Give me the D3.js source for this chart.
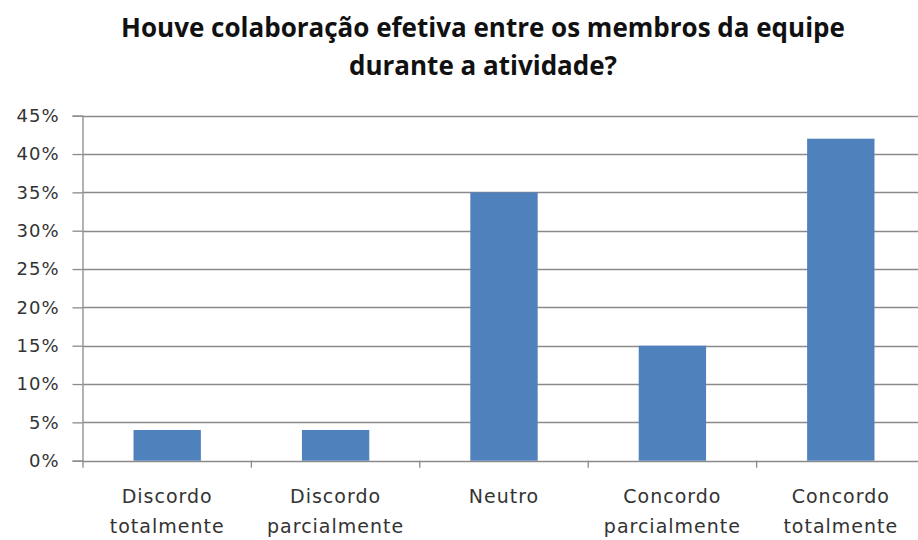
<!DOCTYPE html>
<html>
<head>
<meta charset="utf-8">
<script src="https://cdn.jsdelivr.net/npm/d3@7"></script>
<style>
  body { margin: 0; background: #fff; }
  svg { display: block; }
  .tick text { font-family: "DejaVu Sans", Verdana, sans-serif; fill: #333; }
</style>
</head>
<body>
<div id="chart"></div>
<script>
const categories = [
  ["Discordo", "totalmente"],
  ["Discordo", "parcialmente"],
  ["Neutro"],
  ["Concordo", "parcialmente"],
  ["Concordo", "totalmente"]
];
const values = [0.04, 0.04, 0.35, 0.15, 0.42];
const yTicks = [0, 0.05, 0.10, 0.15, 0.20, 0.25, 0.30, 0.35, 0.40, 0.45];
const titleLines = ["Houve colaboração efetiva entre os membros da equipe", "durante a atividade?"];

const width = 918, height = 540;
const margin = { top: 115.7, right: -7, bottom: 79.3, left: 83 };

const svg = d3.select('#chart').append('svg')
  .attr('width', width)
  .attr('height', height);

// title
svg.append('g').selectAll('text')
  .data(titleLines)
  .enter().append('text')
    .attr('x', 483)
    .attr('y', (d, i) => 37 + i * 38)
    .attr('text-anchor', 'middle')
    .style('font-family', '"Open Sans", sans-serif')
    .style('font-weight', 'bold')
    .style('font-size', '26px')
    .style('fill', '#111')
    .text(d => d);

const x = d3.scaleBand()
  .domain(d3.range(categories.length))
  .range([margin.left, width - margin.right])
  .paddingInner(0.6)
  .paddingOuter(0.3);

const y = d3.scaleLinear()
  .domain([0, 0.45])
  .range([height - margin.bottom, margin.top]);

// gridlines
svg.append('g')
  .selectAll('line')
  .data(yTicks)
  .enter().append('line')
    .attr('x1', margin.left)
    .attr('x2', width)
    .attr('y1', d => Math.round(y(d)) + 0.5)
    .attr('y2', d => Math.round(y(d)) + 0.5)
    .attr('stroke', '#8a8a8a')
    .attr('stroke-width', 1.3);

// bars
svg.append('g')
  .selectAll('rect')
  .data(values)
  .enter().append('rect')
    .attr('x', (d, i) => x(i))
    .attr('width', x.bandwidth())
    .attr('y', d => y(d))
    .attr('height', d => y(0) - y(d))
    .attr('fill', '#4F81BD');

// y axis
const yAxis = svg.append('g')
  .attr('transform', 'translate(' + (margin.left - 0.5) + ',0)')
  .call(d3.axisLeft(y).tickValues(yTicks).tickFormat(d3.format('.0%')).tickSize(10).tickPadding(13));
yAxis.selectAll('line, path').attr('stroke', '#8a8a8a').attr('stroke-width', 1.3);
yAxis.selectAll('text').style('font-size', '18px').attr('letter-spacing', '1px');

// x axis
const step = x.step();
const bounds = d3.range(categories.length + 1).map(i => margin.left + i * step);
const xAxis = svg.append('g');
xAxis.selectAll('line')
  .data(bounds)
  .enter().append('line')
    .attr('x1', d => d)
    .attr('x2', d => d)
    .attr('y1', y(0))
    .attr('y2', y(0) + 7)
    .attr('stroke', '#8a8a8a')
    .attr('stroke-width', 1.3);

const labels = xAxis.selectAll('text')
  .data(categories)
  .enter().append('text')
    .attr('x', (d, i) => x(i) + x.bandwidth() / 2)
    .attr('y', 503)
    .attr('text-anchor', 'middle')
    .style('font-family', '"DejaVu Sans", Verdana, sans-serif')
    .style('font-size', '19px')
    .attr('letter-spacing', '1px')
    .style('fill', '#333');

labels.selectAll('tspan')
  .data(d => d)
  .enter().append('tspan')
    .attr('x', function() { return d3.select(this.parentNode).attr('x'); })
    .attr('dy', (d, i) => i === 0 ? 0 : 30)
    .text(d => d);
</script>
</body>
</html>
